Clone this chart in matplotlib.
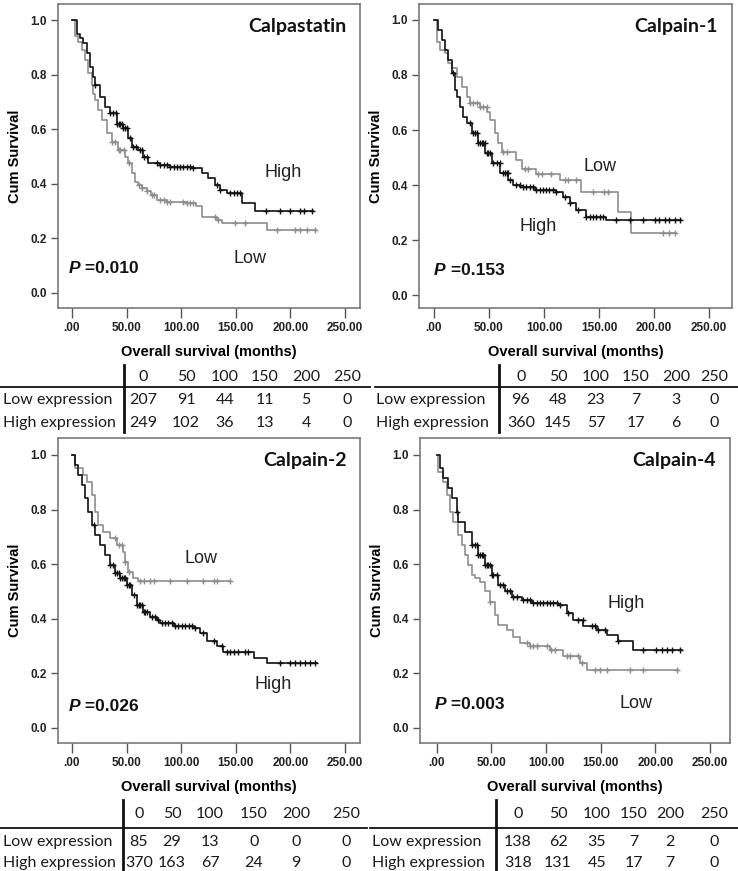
import numpy as np
import matplotlib
matplotlib.use("Agg")
import matplotlib.pyplot as plt
from matplotlib.lines import Line2D

# ---- Calpastatin ----
calpastatin_high_t = [0, 4.3, 7.3, 10.4, 13.4, 16.5, 19.5, 21, 25.6, 30.2, 34.8, 40.9, 47, 51.6, 54.7, 60.7, 65.3,
                      69.9, 80.6, 89.7, 111, 118.8, 124.8, 131, 135.7, 141.8, 155.5, 167.7, 221]
calpastatin_high_s = [1.0, 0.95, 0.933, 0.915, 0.878, 0.829, 0.792, 0.762, 0.719, 0.683, 0.658, 0.621, 0.603, 0.567,
                      0.536, 0.524, 0.50, 0.475, 0.469, 0.463, 0.457, 0.438, 0.42, 0.396, 0.378, 0.366, 0.33, 0.30,
                      0.30]
calpastatin_high_cens = [21, 35, 38, 40, 41.5, 43, 44, 45.7, 47, 48.8, 50, 53, 56, 59, 62.5, 64, 65.5, 68.6, 77.7,
                         80.8, 84, 87, 90, 93, 96, 99, 102, 105, 108, 111, 132.6, 135.7, 145, 148, 151, 154, 178,
                         190.5, 200, 209, 212, 219.5]
calpastatin_low_t = [0, 2.7, 5.8, 8.9, 11.9, 14.9, 18, 19.5, 21, 24.1, 27.2, 31.8, 36.3, 42.4, 48.5, 51.6, 54.7,
                     57.7, 60.7, 64, 68.6, 72, 77.7, 87, 105, 114, 118.6, 132.6, 137.2, 178.4, 223]
calpastatin_low_s = [1.0, 0.94, 0.92, 0.89, 0.853, 0.805, 0.762, 0.731, 0.707, 0.67, 0.634, 0.585, 0.554, 0.524,
                     0.50, 0.475, 0.438, 0.408, 0.396, 0.385, 0.372, 0.36, 0.341, 0.335, 0.329, 0.317, 0.28, 0.268,
                     0.256, 0.232, 0.232]
calpastatin_low_cens = [36.6, 39.6, 42.7, 44.2, 47.3, 51.8, 61, 64, 68.6, 73, 74.7, 80.8, 84, 87, 90, 102, 105, 108,
                        111, 131, 134, 149, 158.5, 187.5, 204, 209, 215, 222.5]

# ---- Calpain-1 ----
calpain1_high_t = [0, 3.9, 7, 10, 13, 16.1, 19.1, 20.6, 23.6, 26.7, 29.7, 34.3, 40.3, 46.4, 52.4, 60, 67.6, 72.1,
                   78.2, 91.8, 111, 117, 123.5, 129.5, 138.6, 156.8, 224.9]
calpain1_high_s = [1.0, 0.964, 0.927, 0.891, 0.855, 0.806, 0.745, 0.721, 0.685, 0.648, 0.624, 0.588, 0.552, 0.515,
                   0.479, 0.442, 0.418, 0.40, 0.394, 0.382, 0.376, 0.358, 0.333, 0.309, 0.285, 0.273, 0.273]
calpain1_high_cens = [17.6, 32.7, 35.7, 37.2, 38.7, 40.3, 41.8, 43.3, 44.8, 46.3, 47.8, 49.3, 50.8, 53.9, 56.9,
                      59.9, 63, 64.5, 66, 67.5, 69, 75, 78, 81, 84, 87, 90, 93, 96, 99, 102, 105, 108, 111, 119,
                      123.5, 131, 138.6, 141.6, 144.7, 147.7, 150.7, 153.7, 165.9, 178, 190, 200.7, 205, 209.7,
                      214, 218.8, 223.4]
calpain1_low_t = [0, 2.4, 5.5, 10, 13, 16.1, 20.6, 25.2, 29.7, 32.7, 41.8, 47.9, 50.9, 55.5, 58.5, 61.5, 75, 79.6,
                  93, 114.3, 134, 167.4, 179.5, 220]
calpain1_low_s = [1.0, 0.921, 0.891, 0.879, 0.842, 0.824, 0.794, 0.758, 0.721, 0.697, 0.685, 0.667, 0.636, 0.588,
                  0.552, 0.521, 0.49, 0.46, 0.44, 0.42, 0.376, 0.303, 0.224, 0.224]
calpain1_low_cens = [32.7, 35.7, 38.7, 41.8, 44.8, 47.8, 63, 66, 82.6, 85.6, 94.7, 97.8, 106.8, 119, 122, 129.5,
                     144.7, 155, 158, 208, 214, 218.8]

# ---- Calpain-2 ----
calpain2_high_t = [0, 2.7, 5.8, 8.9, 11.9, 14.9, 18, 21, 25.6, 30.2, 34.8, 39.4, 44, 50.1, 54.7, 59.2, 65.3, 71.4,
                   77.5, 80.8, 93, 111.3, 117.4, 123.5, 132.6, 138.7, 166.2, 178.4, 224]
calpain2_high_s = [1.0, 0.963, 0.927, 0.89, 0.841, 0.792, 0.744, 0.707, 0.67, 0.634, 0.597, 0.567, 0.548, 0.524,
                   0.487, 0.451, 0.426, 0.408, 0.396, 0.384, 0.372, 0.366, 0.348, 0.317, 0.299, 0.28, 0.256, 0.238,
                   0.238]
calpain2_high_cens = [19.8, 35, 38, 39.6, 41, 42.7, 44.2, 45.7, 47.3, 48.8, 50.3, 51.8, 53.4, 56.4, 59.5, 61, 62.5,
                      64, 65.5, 67, 68.6, 73, 76, 79, 82, 85, 88, 91.5, 94.5, 97.5, 100.6, 103.7, 106.7, 109.8,
                      112.8, 120.4, 129.6, 137, 141.8, 145, 148, 152.4, 158.5, 161.6, 190.5, 199.7, 204, 209,
                      213.4, 218, 222.6]
calpain2_low_t = [0, 2.7, 10.4, 13.4, 18, 21, 24.1, 28.7, 34.8, 40.9, 47, 48.5, 51.6, 56.1, 60.7, 144.8]
calpain2_low_s = [1.0, 0.951, 0.927, 0.902, 0.853, 0.792, 0.744, 0.719, 0.695, 0.67, 0.646, 0.609, 0.573, 0.548,
                  0.54, 0.54]
calpain2_low_cens = [39.6, 42.7, 45.7, 48.8, 51.8, 62.5, 65.5, 71.6, 74.7, 90, 105, 120.4, 129.6, 132.6, 144.8]

# ---- Calpain-4 ----
calpain4_high_t = [0, 3, 6.1, 10.7, 13.7, 18.3, 19.8, 25.9, 32, 38.1, 44.2, 50.3, 56.4, 62.5, 68.6, 77.8, 86.9,
                   111.3, 118.9, 125, 134.1, 146.3, 155.5, 166.2, 179.9, 224.1]
calpain4_high_s = [1.0, 0.951, 0.915, 0.878, 0.841, 0.792, 0.756, 0.719, 0.67, 0.634, 0.597, 0.56, 0.524, 0.50,
                   0.481, 0.469, 0.457, 0.451, 0.42, 0.396, 0.372, 0.36, 0.341, 0.317, 0.287, 0.287]
calpain4_high_cens = [18.3, 32, 35, 36.6, 38.1, 39.6, 41.2, 42.7, 44.2, 45.7, 47.3, 48.8, 50.3, 51.8, 54.9, 57.9,
                      61, 64, 67, 70.1, 73.2, 79.3, 82.3, 85.4, 88.4, 91.5, 94.5, 97.6, 100.6, 103.7, 106.7,
                      109.8, 112.8, 120.4, 129.6, 134, 141.8, 144.8, 147.9, 154, 166.2, 189, 201, 205.8, 210.4,
                      215, 222.6]
calpain4_low_t = [0, 1.5, 6.1, 9.1, 12.2, 15.2, 19.8, 22.9, 25.9, 28.9, 32, 35, 39.6, 44.2, 48.8, 53.4, 56.4, 64,
                  70.1, 76.2, 85.4, 103.7, 115.9, 131.1, 137.2, 221]
calpain4_low_s = [1.0, 0.939, 0.902, 0.853, 0.792, 0.756, 0.707, 0.67, 0.634, 0.597, 0.56, 0.548, 0.536, 0.50,
                  0.463, 0.414, 0.377, 0.36, 0.335, 0.311, 0.299, 0.287, 0.262, 0.238, 0.213, 0.213]
calpain4_low_cens = [48.8, 82.3, 85.4, 88.4, 91.5, 100.6, 105, 108, 119, 122, 129.6, 132.6, 144.8, 149.4, 155.5,
                     176.8, 189, 219.5]

titles = ["Calpastatin", "Calpain-1", "Calpain-2", "Calpain-4"]
p_values = ["=0.010", "=0.153", "=0.026", "=0.003"]
risk_times = ["0", "50", "100", "150", "200", "250"]
risk_low = [[207, 91, 44, 11, 5, 0], [96, 48, 23, 7, 3, 0], [85, 29, 13, 0, 0, 0], [138, 62, 35, 7, 2, 0]]
risk_high = [[249, 102, 36, 13, 4, 0], [360, 145, 57, 17, 6, 0], [370, 163, 67, 24, 9, 0], [318, 131, 45, 17, 7, 0]]

curves = [
    (calpastatin_high_t, calpastatin_high_s, calpastatin_high_cens, calpastatin_low_t, calpastatin_low_s, calpastatin_low_cens),
    (calpain1_high_t, calpain1_high_s, calpain1_high_cens, calpain1_low_t, calpain1_low_s, calpain1_low_cens),
    (calpain2_high_t, calpain2_high_s, calpain2_high_cens, calpain2_low_t, calpain2_low_s, calpain2_low_cens),
    (calpain4_high_t, calpain4_high_s, calpain4_high_cens, calpain4_low_t, calpain4_low_s, calpain4_low_cens),
]

W, H = 738, 871
fig = plt.figure(figsize=(W / 100, H / 100), dpi=100)

# axes boxes in pixels: left, top, right, bottom
boxes = [(58, 4, 360, 308), (419, 4, 732, 308), (58, 438, 360, 743), (420, 438, 730, 743)]
xlims = [(-12.8, 263.7), (-13.6, 270.9), (-12.8, 263.7), (-15.3, 268.3)]
ylims = [(-0.055, 1.059), (-0.047, 1.058), (-0.055, 1.062), (-0.055, 1.062)]
# label positions (month, survival)
high_pos = [(176, 0.44), (78, 0.25), (167, 0.16), (156, 0.457)]
low_pos = [(148, 0.125), (136, 0.467), (103, 0.62), (167, 0.09)]
p_pos = [(-3, 0.09), (0, 0.09), (-3, 0.08), (-2, 0.085)]

BLACK = "#111111"
GREY = "#8e8e8e"
AX = "#7a7a7a"


def surv_at(t, s, c):
    t = np.asarray(t)
    s = np.asarray(s)
    idx = np.searchsorted(t, c, side="right") - 1
    return s[idx]


for i, (l, t, r, b) in enumerate(boxes):
    ax = fig.add_axes([l / W, 1 - b / H, (r - l) / W, (b - t) / H])
    ht, hs, hc, lt, ls, lc = curves[i]
    ax.step(lt, ls, where="post", color=GREY, lw=1.2)
    ax.plot(lc, surv_at(lt, ls, lc), ls="none", marker="+", ms=5, mew=1.0, color=GREY)
    ax.step(ht, hs, where="post", color=BLACK, lw=1.2)
    ax.plot(hc, surv_at(ht, hs, hc), ls="none", marker="+", ms=5, mew=1.0, color=BLACK)
    ax.set_xlim(*xlims[i])
    ax.set_ylim(*ylims[i])
    ax.set_xticks([0, 50, 100, 150, 200, 250])
    ax.set_xticklabels([".00", "50.00", "100.00", "150.00", "200.00", "250.00"])
    ax.set_yticks([0, 0.2, 0.4, 0.6, 0.8, 1.0])
    ax.set_yticklabels(["0.0", "0.2", "0.4", "0.6", "0.8", "1.0"])
    for sp in ax.spines.values():
        sp.set_color(AX)
        sp.set_linewidth(1.2)
    ax.tick_params(direction="out", length=5, width=1, color="#555555", pad=3)
    ax.tick_params(axis="x", length=7)
    for lab in ax.get_xticklabels() + ax.get_yticklabels():
        lab.set_fontfamily("Liberation Sans")
        lab.set_fontsize(8.5)
        lab.set_fontweight("bold")
        lab.set_color("#222222")
    ax.set_ylabel("Cum Survival", fontfamily="Liberation Sans", fontsize=10.5, fontweight="bold", labelpad=6)
    ax.set_xlabel("Overall survival (months)", fontfamily="Liberation Sans", fontsize=10.5,
                  fontweight="bold", labelpad=8)
    ax.text(0.955, 0.955, titles[i], transform=ax.transAxes, ha="right", va="top",
            fontfamily="Lato", fontsize=14, fontweight="bold", color=BLACK)
    ax.text(*high_pos[i], "High", fontfamily="Liberation Sans", fontsize=13, color="#222222", va="center")
    ax.text(*low_pos[i], "Low", fontfamily="Liberation Sans", fontsize=13, color="#222222", va="center")
    tp = ax.text(*p_pos[i], "P", fontfamily="Liberation Sans", fontsize=12.5, fontweight="bold",
                 fontstyle="italic", va="center", color=BLACK)
    ax.annotate(" " + p_values[i], xy=(1, 0.5), xycoords=tp, va="center", ha="left",
                fontfamily="Liberation Sans", fontsize=12.5, fontweight="bold", color=BLACK)

# number-at-risk tables (pixel layout)
tables = [
    dict(x0=0, x1=370, xl=3, vx=124, cols=[143, 186, 225, 265, 306, 347], yh=377, yline=387, ylo=400, yhi=423, vy=(365, 432)),
    dict(x0=375, x1=738, xl=376, vx=499, cols=[521, 558, 596, 636, 676, 714], yh=377, yline=387, ylo=400, yhi=423, vy=(365, 432)),
    dict(x0=0, x1=367, xl=3, vx=123, cols=[139, 172, 210, 254, 296, 346], yh=814, yline=828, ylo=842, yhi=863, vy=(800, 871)),
    dict(x0=370, x1=738, xl=372, vx=496, cols=[518, 558, 597, 634, 670, 714], yh=814, yline=828, ylo=842, yhi=863, vy=(800, 871)),
]


def fx(x):
    return x / W


def fy(y):
    return 1 - y / H


tkw = dict(fontfamily="Lato", fontsize=11.5, color="#1a1a1a", va="center")
for i, tb in enumerate(tables):
    fig.add_artist(Line2D([fx(tb["x0"]), fx(tb["x1"])], [fy(tb["yline"])] * 2, color="#111111", lw=1.3))
    fig.add_artist(Line2D([fx(tb["vx"])] * 2, [fy(tb["vy"][0]), fy(tb["vy"][1])], color="#111111", lw=2))
    fig.text(fx(tb["xl"]), fy(tb["ylo"]), "Low expression", ha="left", **tkw)
    fig.text(fx(tb["xl"]), fy(tb["yhi"]), "High expression", ha="left", **tkw)
    for j, cx in enumerate(tb["cols"]):
        fig.text(fx(cx), fy(tb["yh"]), risk_times[j], ha="center", **tkw)
        fig.text(fx(cx), fy(tb["ylo"]), str(risk_low[i][j]), ha="center", **tkw)
        fig.text(fx(cx), fy(tb["yhi"]), str(risk_high[i][j]), ha="center", **tkw)

fig.savefig("out.png", dpi=100)
